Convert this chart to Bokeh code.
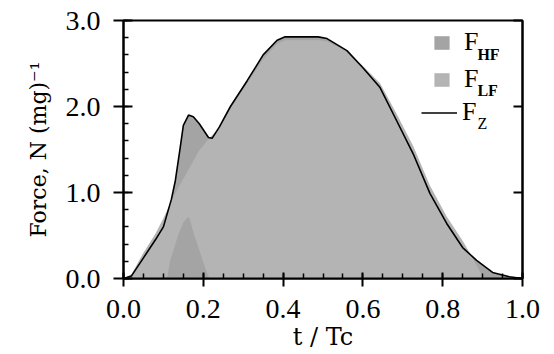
from bokeh.plotting import figure
from bokeh.models import Range1d, FixedTicker, LinearAxis, Legend, LegendItem, Label, PrintfTickFormatter
from bokeh.embed import file_html
from bokeh.resources import INLINE

# ---- data ----
t_fz = [0.0, 0.02, 0.05, 0.08, 0.10, 0.12, 0.13, 0.142, 0.15, 0.163, 0.175, 0.19, 0.213,
        0.222, 0.24, 0.268, 0.31, 0.35, 0.385, 0.405, 0.488, 0.51, 0.56, 0.60, 0.643,
        0.684, 0.726, 0.768, 0.81, 0.85, 0.885, 0.925, 0.967, 1.0]
fz = [0.0, 0.03, 0.24, 0.45, 0.60, 0.92, 1.14, 1.52, 1.78, 1.90, 1.88, 1.80, 1.64,
      1.63, 1.76, 2.00, 2.30, 2.60, 2.77, 2.81, 2.81, 2.79, 2.65, 2.45, 2.22,
      1.84, 1.45, 0.99, 0.64, 0.36, 0.21, 0.07, 0.02, 0.0]

t_lf = [0.0, 0.02, 0.05, 0.08, 0.10, 0.125, 0.19, 0.215, 0.24, 0.268, 0.31, 0.35, 0.385,
        0.405, 0.49, 0.51, 0.56, 0.60, 0.643, 0.684, 0.726, 0.768, 0.81, 0.85, 0.87,
        0.885, 0.90, 0.905]
lf = [0.0, 0.05, 0.30, 0.52, 0.70, 0.95, 1.49, 1.63, 1.75, 1.98, 2.27, 2.55, 2.73,
      2.77, 2.77, 2.76, 2.64, 2.47, 2.27, 1.92, 1.54, 1.08, 0.72, 0.44, 0.28,
      0.15, 0.02, 0.0]

t_hf = [0.105, 0.11, 0.117, 0.138, 0.15, 0.16, 0.165, 0.176, 0.19, 0.205, 0.215]
hf = [0.0, 0.02, 0.21, 0.52, 0.65, 0.71, 0.71, 0.52, 0.33, 0.12, 0.0]

x_ticks = [0.0, 0.2, 0.4, 0.6, 0.8, 1.0]
x_tick_labels = ["0.0", "0.2", "0.4", "0.6", "0.8", "1.0"]
y_ticks = [0.0, 1.0, 2.0, 3.0]
y_tick_labels = ["0.0", "1.0", "2.0", "3.0"]

HF_COLOR = "#a4a4a4"
LF_COLOR = "#b4b4b4"

p = figure(width=554, height=354, x_range=Range1d(0, 1), y_range=Range1d(0, 3),
           output_backend="svg", toolbar_location=None,
           min_border_left=123, min_border_right=32, min_border_top=20, min_border_bottom=76)
p.xgrid.visible = False
p.ygrid.visible = False
p.outline_line_color = "black"
p.outline_line_width = 2
p.outline_line_alpha = 1.0
p.background_fill_color = "white"
p.border_fill_color = "white"

# areas
p.varea(x=t_fz, y1=0, y2=fz, fill_color=HF_COLOR)
r_lf = p.varea(x=t_lf, y1=0, y2=lf, fill_color=LF_COLOR)
r_hf = p.varea(x=t_hf, y1=0, y2=hf, fill_color=HF_COLOR)
r_fz = p.line(t_fz, fz, line_color="black", line_width=1.6)

x_minor = [i * 0.05 for i in range(21)]
y_minor = [i * 0.2 for i in range(16)]

xa = p.xaxis[0]
xa.ticker = FixedTicker(ticks=x_ticks, minor_ticks=x_minor)
xa.formatter = PrintfTickFormatter(format="%.1f")
xa.major_label_overrides = dict(zip(x_ticks, x_tick_labels))
xa.major_tick_in = 6
xa.major_tick_out = 8
xa.minor_tick_in = 5
xa.minor_tick_out = 0
xa.major_label_standoff = 13
xa.axis_label = "t / Tc"
xa.axis_label_standoff = 2

ya = p.yaxis[0]
ya.ticker = FixedTicker(ticks=y_ticks, minor_ticks=y_minor)
ya.formatter = PrintfTickFormatter(format="%.1f")
ya.major_label_overrides = dict(zip(y_ticks, y_tick_labels))
ya.major_tick_in = 9
ya.major_tick_out = 10
ya.minor_tick_in = 5
ya.minor_tick_out = 0
ya.major_label_standoff = 13
ya.axis_label = "Force, N (mg)\u207b\u00b9"
ya.axis_label_standoff = 12

for ax in (xa, ya):
    ax.axis_line_width = 2
    ax.axis_line_color = "black"
    ax.major_tick_line_width = 2
    ax.major_tick_line_color = "black"
    ax.minor_tick_line_width = 1.5
    ax.minor_tick_line_color = "black"
    ax.major_label_text_font = "Liberation Serif"
    ax.major_label_text_font_size = "28px"
    ax.major_label_text_color = "black"
    ax.axis_label_text_font = "DejaVu Serif"
    ax.axis_label_text_font_style = "normal"
    ax.axis_label_text_color = "black"
xa.axis_label_text_font_size = "24px"
ya.axis_label_text_font_size = "22px"

ra = LinearAxis(ticker=FixedTicker(ticks=y_ticks, minor_ticks=[]))
ra.major_label_overrides = {t: "" for t in y_ticks}
ra.major_label_standoff = 0
ra.major_tick_in = 9
ra.major_tick_out = 0
ra.minor_tick_in = 0
ra.minor_tick_out = 0
ra.axis_line_width = 2
ra.major_tick_line_width = 2
p.add_layout(ra, "right")

legend_common = dict(padding=0, margin=0, border_line_alpha=0, background_fill_alpha=0,
                     label_text_font="Liberation Serif", label_text_font_size="26px",
                     label_text_color="black")
leg1 = Legend(items=[LegendItem(label="F", renderers=[r_hf]),
                     LegendItem(label="F", renderers=[r_lf])],
              location=(309, 184), glyph_width=19, glyph_height=17, label_standoff=13,
              spacing=7, **legend_common)
leg2 = Legend(items=[LegendItem(label="F", renderers=[r_fz])],
              location=(298, 151), glyph_width=36, glyph_height=17, label_standoff=5,
              **legend_common)
p.add_layout(leg1)
p.add_layout(leg2)

for txt, yy, bold in (("HF", 2.61, True), ("LF", 2.186, True), ("Z", 1.802, False)):
    p.add_layout(Label(x=0.887, y=yy, text=txt, text_font="Liberation Serif",
                       text_font_size="16px", text_font_style="bold" if bold else "normal",
                       text_baseline="alphabetic", text_color="black"))

open("out.html", "w").write(file_html(p, INLINE))
